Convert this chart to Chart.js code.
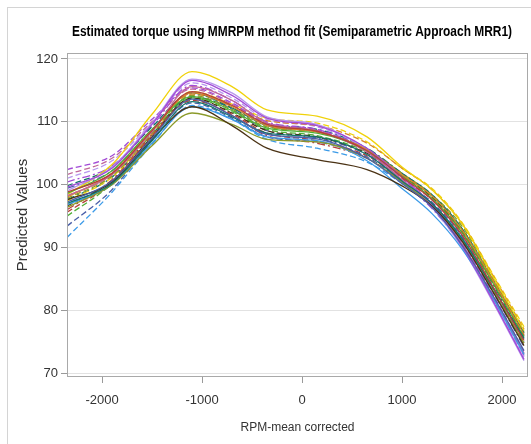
<!DOCTYPE html>
<html>
<head>
<meta charset="utf-8">
<script src="https://cdn.jsdelivr.net/npm/chart.js@4.4.1/dist/chart.umd.min.js"></script>
<style>
  html, body { margin: 0; padding: 0; background: #fff; }
  #wrap { position: relative; width: 531px; height: 444px; overflow: hidden; }
  #frame { position: absolute; left: 7px; top: 7px; width: 600px; height: 600px; border: 1px solid #d4d4d4; }
  canvas { position: absolute; left: 0; top: 0; }
</style>
</head>
<body>
<div id="wrap">
  <div id="frame"></div>
  <canvas id="chart" width="531" height="444"></canvas>
</div>
<script>
// RPM grid the fitted curves are evaluated on
const rpmKnots = [-2350, -1900, -1500, -1100, -700, -350, 150, 650, 1000, 1300, 1600, 1900, 2220];
const xTicks = [-2000, -1000, 0, 1000, 2000];
const yTicks = [70, 80, 90, 100, 110, 120];

// predicted torque per engine, solid lines
const fit01 = [97.2, 100.6, 107.4, 113.6, 111.0, 108.0, 107.3, 104.2, 100.2, 96.4, 90.4, 82.6, 73.6];
const fit02 = [98.8, 101.8, 108.6, 114.8, 112.6, 109.6, 108.5, 105.4, 101.2, 97.6, 92.0, 84.0, 75.2];
const fit03 = [97.0, 100.2, 107.0, 113.2, 110.8, 108.2, 107.6, 104.8, 100.6, 97.0, 91.4, 83.8, 75.6];
const fit04 = [97.6, 100.4, 107.2, 112.4, 109.4, 105.8, 104.0, 102.4, 99.8, 96.6, 91.0, 83.2, 74.4];
const fit05 = [99.6, 102.6, 109.6, 116.6, 114.2, 110.6, 109.4, 105.8, 101.2, 96.8, 90.2, 81.8, 72.2];
const fit06 = [96.4, 100.0, 106.2, 111.4, 109.6, 107.2, 106.8, 104.2, 100.4, 96.6, 91.2, 83.4, 74.8];
const fit07 = [96.8, 100.0, 106.6, 112.4, 110.4, 107.6, 107.0, 103.8, 99.4, 95.4, 89.8, 82.2, 73.0];
const fit08 = [98.2, 101.6, 108.4, 115.6, 113.4, 109.8, 108.6, 105.2, 100.8, 96.6, 90.6, 82.4, 73.2];
const fit09 = [98.0, 101.8, 108.6, 114.6, 112.4, 109.4, 108.4, 105.6, 101.6, 98.2, 92.8, 85.0, 76.2];
const fit10 = [98.6, 102.2, 108.8, 114.0, 111.8, 109.0, 108.2, 105.4, 101.4, 97.8, 92.4, 84.6, 75.8];
const fit11 = [99.0, 102.8, 109.8, 116.8, 114.6, 110.8, 109.6, 105.6, 100.8, 96.4, 90.0, 81.6, 72.0];
const fit12 = [98.4, 103.2, 111.2, 118.0, 115.6, 111.9, 110.9, 107.6, 102.8, 99.2, 93.8, 85.6, 76.8];
// dashed lines
const fit13 = [93.4, 99.2, 107.0, 113.0, 110.6, 107.6, 106.8, 104.4, 100.6, 97.2, 91.8, 84.0, 75.4];
const fit14 = [95.6, 100.4, 107.8, 113.4, 111.2, 108.2, 107.0, 104.6, 101.0, 97.6, 92.4, 84.6, 76.0];
const fit15 = [99.8, 102.8, 109.2, 114.6, 112.2, 109.4, 108.4, 105.6, 101.8, 98.4, 93.0, 85.0, 76.4];
const fit16 = [96.6, 100.6, 107.6, 113.8, 111.4, 108.6, 107.6, 105.0, 101.4, 98.0, 92.6, 84.8, 76.0];
const fit17 = [102.4, 104.6, 110.4, 115.4, 113.0, 109.8, 108.8, 105.4, 100.8, 96.8, 90.8, 82.8, 73.4];
const fit18 = [97.8, 101.4, 108.2, 114.2, 112.0, 109.2, 108.4, 105.6, 101.8, 98.4, 93.4, 85.4, 76.6];
const fit19 = [91.6, 98.8, 106.4, 112.6, 110.4, 107.2, 105.8, 103.6, 100.2, 96.8, 91.6, 83.8, 75.0];
const fit20 = [101.6, 104.2, 110.0, 115.2, 112.8, 109.6, 108.6, 105.4, 101.0, 97.0, 91.0, 82.6, 73.0];
const fit21 = [98.2, 101.6, 108.6, 114.4, 112.6, 110.2, 109.4, 106.6, 102.6, 99.2, 93.8, 85.8, 77.0];
const fit22 = [95.0, 100.2, 107.6, 113.8, 111.6, 108.8, 107.8, 105.2, 101.6, 98.2, 93.0, 85.2, 76.4];
const fit23 = [101.0, 103.8, 109.8, 116.2, 113.8, 110.4, 109.2, 105.6, 101.0, 96.8, 90.6, 82.0, 72.6];
const fit24 = [97.4, 101.2, 108.2, 114.8, 112.8, 110.6, 109.8, 106.8, 102.6, 99.4, 94.0, 86.0, 77.4];
// dash-dot lines
const fit25 = [99.4, 102.2, 108.8, 114.6, 112.0, 108.6, 107.4, 104.8, 100.6, 97.0, 91.2, 83.2, 74.2];
const fit26 = [96.0, 100.8, 108.0, 113.6, 111.0, 107.8, 106.6, 104.2, 100.6, 97.0, 91.6, 83.6, 74.8];
const fit27 = [97.6, 101.2, 108.0, 114.0, 112.2, 109.6, 108.8, 105.8, 101.8, 98.2, 92.4, 84.4, 75.4];
const fit28 = [100.4, 103.0, 109.4, 115.8, 113.4, 110.0, 108.8, 105.2, 100.4, 96.2, 90.2, 82.0, 72.8];

const fits = [fit01, fit02, fit03, fit04, fit05, fit06, fit07, fit08, fit09, fit10, fit11, fit12,
              fit13, fit14, fit15, fit16, fit17, fit18, fit19, fit20, fit21, fit22, fit23, fit24,
              fit25, fit26, fit27, fit28];

// group colour cycle
const palette = ['#4a5fa8', '#b4413a', '#11756b', '#4a3214', '#a24bd6', '#8b9a2a',
                 '#3c9be8', '#c0679a', '#d8862a', '#4fae34', '#b796ee', '#f0d20a'];
const palette3 = ['#4a5fa8', '#b4413a', '#11756b', '#a24bd6'];

const datasets = fits.map((vals, i) => {
  let color, dash;
  if (i < 12) { color = palette[i]; dash = []; }
  else if (i < 24) { color = palette[i - 12]; dash = [6, 3]; }
  else { color = palette3[i - 24]; dash = [8, 3, 2, 3]; }
  return {
    label: 'fit' + (i + 1),
    data: rpmKnots.map((x, k) => ({ x: x, y: vals[k] })),
    borderColor: color,
    borderDash: dash,
    borderWidth: 1.3,
    pointRadius: 0,
    fill: false,
    cubicInterpolationMode: 'monotone'
  };
});

const sans = '"Liberation Sans", Arial, sans-serif';

// plot title and the box round the plot area
const decor = {
  id: 'decor',
  afterDraw(chart) {
    const { ctx, chartArea: a } = chart;
    ctx.save();
    ctx.strokeStyle = '#a9a9a9';
    ctx.lineWidth = 1;
    ctx.strokeRect(a.left + 0.5, a.top + 0.5, a.right - a.left - 1, a.bottom - a.top - 1);
    ctx.font = 'bold 14px ' + sans;
    ctx.fillStyle = '#000';
    ctx.textAlign = 'center';
    ctx.textBaseline = 'alphabetic';
    ctx.fillText('Estimated torque using MMRPM method fit (Semiparametric Approach MRR1)', 292, 36, 440);
    ctx.restore();
  }
};

new Chart(document.getElementById('chart'), {
  type: 'line',
  data: { datasets: datasets },
  options: {
    responsive: false,
    animation: false,
    events: [],
    layout: { padding: { left: 0, right: 3, top: 53, bottom: 0 } },
    plugins: { legend: { display: false }, title: { display: false }, tooltip: { enabled: false } },
    scales: {
      x: {
        type: 'linear',
        min: -2350,
        max: 2260,
        afterFit(scale) { scale.height = 67; },
        afterBuildTicks(scale) { scale.ticks = xTicks.map(v => ({ value: v })); },
        grid: { drawOnChartArea: false, tickLength: 6, tickColor: '#9a9a9a' },
        border: { display: false },
        ticks: { color: '#333', font: { family: sans, size: 13 }, padding: 10, maxRotation: 0,
                 callback: v => String(v) },
        title: { display: true, text: 'RPM-mean corrected', color: '#333',
                 font: { family: sans, size: 12 }, padding: { top: 0, bottom: 9 } }
      },
      y: {
        min: 69.4,
        max: 120.95,
        afterFit(scale) { scale.width = 67; },
        afterBuildTicks(scale) { scale.ticks = yTicks.map(v => ({ value: v })); },
        grid: { color: '#e2e2e2', tickLength: 6, tickColor: '#9a9a9a' },
        border: { display: false },
        ticks: { color: '#333', font: { family: sans, size: 13 }, padding: 3,
                 callback: v => String(v) },
        title: { display: true, text: 'Predicted Values', color: '#333',
                 font: { family: sans, size: 15 }, padding: { top: 14, bottom: 0 } }
      }
    }
  },
  plugins: [decor]
});
</script>
</body>
</html>
